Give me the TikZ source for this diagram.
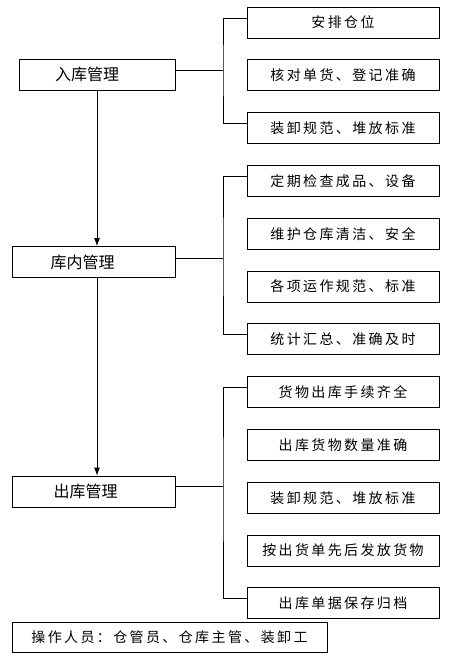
\documentclass[tikz,border=0pt]{standalone}
\usepackage{fontspec}
\usepackage{tikz}
\usetikzlibrary{positioning,arrows.meta}
\newfontfamily\cjk{Noto Sans CJK SC}
\newfontfamily\cjkwide[LetterSpace=17]{Noto Sans CJK SC}
\tikzset{
  stage box/.style={
    draw,
    line width=0.8pt,
    minimum width={#1pt},
    minimum height=31pt,
    inner sep=0pt,
    font=\cjk\fontsize{16}{18}\selectfont,
  },
  task box/.style={
    draw,
    line width=0.8pt,
    minimum width=192pt,
    minimum height=31pt,
    inner sep=0pt,
    font=\cjkwide\fontsize{14}{16}\selectfont,
  },
  link/.style={
    line width=0.8pt,
  }
}

\begin{document}
\begin{tikzpicture}[x=1pt,y=-1pt,node distance=21pt]
        \useasboundingbox (0,0) rectangle (468,661);
        \node [task box] (r1) at (343,22.5) {安排仓位};
        \node [task box, below=of r1] (r2) {核对单货、登记准确};
        \node [task box, below=of r2] (r3) {装卸规范、堆放标准};
        \node [task box, below=of r3] (r4) {定期检查成品、设备};
        \node [task box, below=of r4] (r5) {维护仓库清洁、安全};
        \node [task box, below=of r5] (r6) {各项运作规范、标准};
        \node [task box, below=of r6] (r7) {统计汇总、准确及时};
        \node [task box, below=of r7] (r8) {货物出库手续齐全};
        \node [task box, below=of r8] (r9) {出库货物数量准确};
        \node [task box, below=of r9] (r10) {装卸规范、堆放标准};
        \node [task box, below=of r10] (r11) {按出货单先后发放货物};
        \node [task box, below=of r11] (r12) {出库单据保存归档};

        \node [stage box=156] (in) at (97,74.5) {入库管理\hspace*{20pt}};
        \node [stage box=163] (kn) at (93.5,262) {库内管理\hspace*{22pt}};
        \node [stage box=163] (out) at (93.5,491.5) {出库管理\hspace*{16pt}};
        \node [task box, minimum width=315pt, minimum height=30pt] (staff) at (169.5,637) {操作人员：仓管员、仓库主管、装卸工};

        % brackets
        \coordinate (b1) at (223,70);
        \coordinate (b2) at (223,258);
        \coordinate (b3) at (223,486);
        \draw [link] (in.east |- b1) -- (b1);
        \draw [link] ([yshift=4.5pt]r1.west) -| (b1) |- ([yshift=4.5pt]r3.west);
        \draw [link] (kn.east |- b2) -- (b2);
        \draw [link] ([yshift=4.5pt]r4.west) -| (b2) |- ([yshift=4.5pt]r7.west);
        \draw [link] (out.east |- b3) -- (b3);
        \draw [link] ([yshift=4.5pt]r8.west) -| (b3) |- ([yshift=4.5pt]r12.west);

        % flow
        \draw [link, -{Latex[length=8pt,width=6pt]}] (in.south) -- (in.south |- kn.north);
        \draw [link, -{Latex[length=8pt,width=6pt]}] (in.south |- kn.south) -- (in.south |- out.north);
    \end{tikzpicture}
\end{document}
